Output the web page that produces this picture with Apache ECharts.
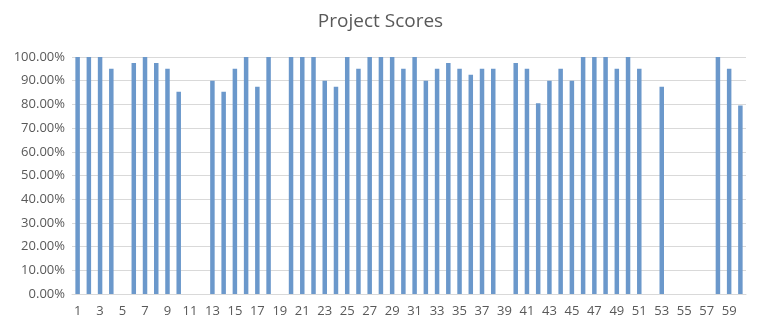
<!DOCTYPE html>
<html>
<head>
<meta charset="utf-8">
<script src="https://cdn.jsdelivr.net/npm/echarts@6/dist/echarts.min.js"></script>
<style>html,body{margin:0;padding:0;background:#fff;}#chart{width:761px;height:329px;}</style>
</head>
<body>
<div id="chart"></div>
<script>
const categories = Array.from({length: 60}, (_, i) => String(i + 1));
const scores = [
  1.00, 1.00, 1.00, 0.95, null, 0.975, 1.00, 0.975, 0.95, 0.853,
  null, null, 0.90, 0.853, 0.95, 1.00, 0.875, 1.00, null, 1.00,
  1.00, 1.00, 0.90, 0.875, 1.00, 0.95, 1.00, 1.00, 1.00, 0.95,
  1.00, 0.90, 0.95, 0.975, 0.95, 0.925, 0.95, 0.95, null, 0.975,
  0.95, 0.805, 0.90, 0.95, 0.90, 1.00, 1.00, 1.00, 0.95, 1.00,
  0.95, null, 0.875, null, null, null, null, 1.00, 0.95, 0.795
];
const titleText = 'Project Scores';

const chart = echarts.init(document.getElementById('chart'), null, {renderer: 'canvas'});
chart.setOption({
  animation: false,
  backgroundColor: '#ffffff',
  title: {
    text: titleText,
    left: 'center',
    top: 7,
    textStyle: {fontFamily: 'Open Sans', fontSize: 19, fontWeight: 'normal', color: '#595959'}
  },
  grid: {left: 72, right: 15, top: 57, bottom: 35, containLabel: false},
  xAxis: {
    type: 'category',
    data: categories,
    axisLine: {lineStyle: {color: '#d9d9d9'}},
    axisTick: {show: false},
    axisLabel: {interval: 1, color: '#595959', fontFamily: 'Open Sans', fontSize: 13, margin: 11}
  },
  yAxis: {
    type: 'value',
    min: 0,
    max: 1,
    interval: 0.1,
    axisLine: {show: false},
    axisTick: {show: false},
    splitLine: {lineStyle: {color: '#d9d9d9'}},
    axisLabel: {
      color: '#595959', fontFamily: 'Open Sans', fontSize: 13, margin: 7,
      formatter: v => (v * 100).toFixed(2) + '%'
    }
  },
  series: [{
    type: 'bar',
    data: scores,
    barWidth: '40%',
    itemStyle: {color: '#6b98cb'}
  }]
});
</script>
</body>
</html>
